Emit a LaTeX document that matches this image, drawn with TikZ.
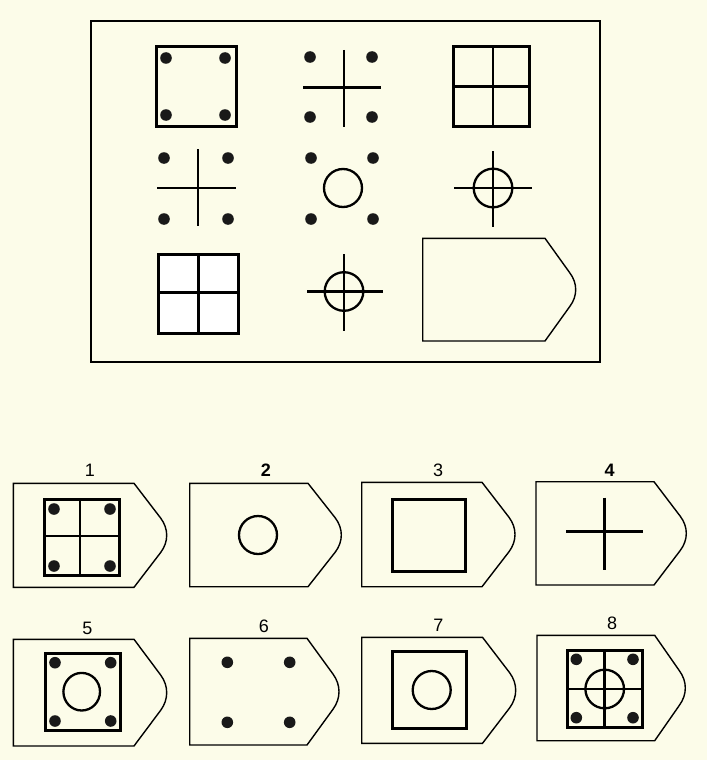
\documentclass[tikz,border=0pt]{standalone}
\usepackage{fontspec}
\setmainfont{Liberation Sans}
\definecolor{paper}{RGB}{252,252,233}
\tikzset{
  frameline/.style={line width=1.9pt},
  tagline/.style={line width=1.4pt, line join=miter},
  boxline/.style={line width=3pt},
  crossline/.style={line width=2.5pt},
  ringline/.style={line width=2.3pt},
  blackdot/.style={fill=black!90},
  lbl/.style={font=\fontsize{18}{18}\selectfont, inner sep=0pt}
}
\newcommand{\tagshape}[5]{%
  \pgfmathsetmacro\tmid{(#2+#5)/2}%
  \pgfmathsetmacro\th{(#5-#2)}%
  \draw[tagline] (#1,#2) -- (#3,#2) -- (#4-6,\tmid-0.165*\th)
    .. controls (#4+2,\tmid-0.062*\th) and (#4+2,\tmid+0.062*\th) ..
    (#4-6,\tmid+0.165*\th) -- (#3,#5) -- (#1,#5) -- cycle;}
\newcommand{\fourdots}[4]{%
  \fill[blackdot] (#1,#3) circle (5.8);
  \fill[blackdot] (#2,#3) circle (5.8);
  \fill[blackdot] (#1,#4) circle (5.8);
  \fill[blackdot] (#2,#4) circle (5.8);}
\begin{document}
\begin{tikzpicture}[x=1pt,y=-1pt]
\useasboundingbox (0,0) rectangle (707,760);
\fill[paper] (0,0) rectangle (707,760);
% main frame
\draw[frameline] (91,21) rectangle (600,362);
% row 1
\draw[boxline] (156,47) rectangle (236,126);
\fourdots{166}{225}{58}{115}
\draw[crossline] (344,50) -- (344,127);
\draw[crossline] (303,87.7) -- (381,87.7);
\fourdots{310}{372}{57}{117}
\draw[boxline] (453,47) rectangle (529,126);
\draw[crossline] (493,47) -- (493,126);
\draw[crossline] (453,86.7) -- (529,86.7);
% row 2
\draw[crossline] (198,149) -- (198,226);
\draw[crossline] (157,188) -- (236,188);
\fourdots{164}{228}{158}{219}
\draw[ringline] (343,188) circle (19);
\fourdots{311}{373}{158}{219}
\draw[crossline] (493,151) -- (493,227);
\draw[crossline] (454,188) -- (532,188);
\draw[ringline] (493,188) circle (19.3);
% row 3
\draw[boxline, fill=white] (158,254) rectangle (238,333);
\draw[crossline] (198.3,254) -- (198.3,333);
\draw[crossline] (158,292.7) -- (238,292.7);
\draw[crossline] (344,254) -- (344,331);
\draw[crossline] (307,291.7) -- (383,291.7);
\draw[ringline] (344,291.5) circle (19.3);
\tagshape{422.7}{238.3}{545}{575.7}{341}
% option 1
\node[lbl] (l1) at (90,470) {1};
\tagshape{13.3}{483.3}{134}{166.7}{587.3}
\draw[boxline] (44,499.3) rectangle (119.3,575);
\draw[crossline] (80,499.3) -- (80,575);
\draw[crossline] (44,536) -- (119.3,536);
\fourdots{54}{110}{509}{566}
% option 2
\node[lbl, font=\fontsize{18}{18}\selectfont\bfseries] (l2) at (266,470.5) {2};
\tagshape{189.7}{483.3}{308}{341.3}{586.7}
\draw[ringline] (258,535) circle (19);
% option 3
\node[lbl] (l3) at (438,470) {3};
\tagshape{361.7}{482.3}{482}{515}{586.7}
\draw[boxline] (392.3,499) rectangle (465.7,571.7);
% option 4
\node[lbl, font=\fontsize{18}{18}\selectfont\bfseries] (l4) at (609.7,470) {4};
\tagshape{536}{481.7}{654}{686.3}{585}
\draw[crossline] (604.3,497.7) -- (604.3,570);
\draw[crossline] (566.3,531.3) -- (642.7,531.3);
% option 5
\node[lbl] (l5) at (87.3,628.3) {5};
\tagshape{13.3}{639.3}{134}{166.7}{746}
\draw[boxline] (45,653.3) rectangle (120,730.7);
\draw[ringline] (81.7,691.7) ellipse (18.3 and 18.8);
\fourdots{55}{110.7}{662.7}{721}
% option 6
\node[lbl] (l6) at (264,626.7) {6};
\tagshape{189.7}{638.3}{307}{339}{745}
\fourdots{227.3}{289.7}{662.3}{722.3}
% option 7
\node[lbl] (l7) at (438.3,625) {7};
\tagshape{361.7}{637.3}{482.5}{515.7}{743.3}
\draw[boxline] (392.7,651.7) rectangle (466.7,728.3);
\draw[ringline] (431.7,690) circle (19);
% option 8
\node[lbl] (l8) at (612,623.3) {8};
\tagshape{537}{635.3}{654.7}{685.3}{740.7}
\draw[boxline] (567,650.7) rectangle (642.7,727.3);
\draw[crossline] (604.7,650.7) -- (604.7,727.3);
\draw[crossline] (567,689) -- (642.7,689);
\draw[ringline] (604.7,689) circle (19.3);
\fourdots{576.3}{633}{659.3}{717.7}
\end{tikzpicture}
\end{document}
